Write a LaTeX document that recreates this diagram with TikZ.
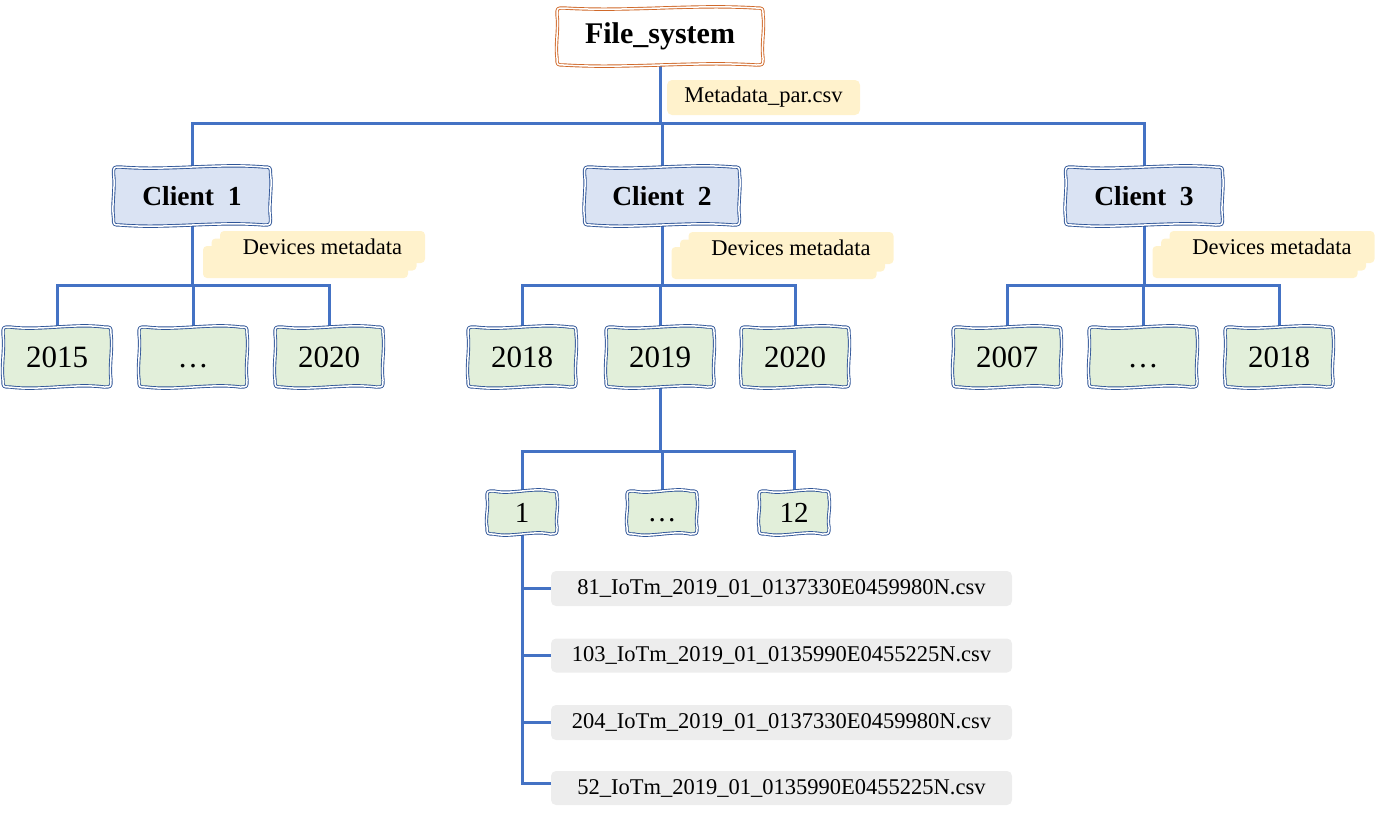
\documentclass[tikz,border=0pt]{standalone}
\usepackage{fontspec}
\setmainfont{Liberation Serif}
\usetikzlibrary{calc}
\definecolor{lineblue}{HTML}{4472C4}
\definecolor{bordblue}{HTML}{2F5597}
\definecolor{bordorange}{HTML}{D0692A}
\definecolor{fillblue}{HTML}{DAE3F3}
\definecolor{fillgreen}{HTML}{E2EFDA}
\definecolor{fillyellow}{HTML}{FFF2CC}
\definecolor{fillgray}{HTML}{EDEDED}
\pgfdeclarelayer{bg}
\pgfsetlayers{bg,main}
\tikzset{
  conn/.style={draw=lineblue, line width=3pt},
  wavebase/.style={line width=0.9pt, double=white, double distance=1.5pt, line join=round},
  rootwave/.style={wavebase, draw=bordorange, fill=white},
  clientwave/.style={wavebase, draw=bordblue, fill=fillblue},
  yearwave/.style={wavebase, draw=bordblue, fill=fillgreen},
  boxtext/.style={inner sep=0pt, text=black},
  roottext/.style={boxtext, font=\fontsize{30}{34}\selectfont\bfseries},
  clienttext/.style={boxtext, font=\fontsize{27.5}{31}\selectfont\bfseries},
  yeartext/.style={boxtext, font=\fontsize{31}{35}\selectfont},
  monthtext/.style={boxtext, font=\fontsize{29}{33}\selectfont},
  smalltext/.style={inner sep=0pt, font=\fontsize{22.5}{26}\selectfont},
  notebox/.style={fill=fillyellow, rounded corners=5pt},
  filebox/.style={fill=fillgray, rounded corners=5pt},
}
% #1 shape style, #2 text style, #3 name, #4 x, #5 y, #6 half width, #7 half height, #8 text
\newcommand\wavebox[8]{%
  \pgfmathsetmacro\wbW{#6}%
  \pgfmathsetmacro\wbH{#7}%
  \pgfmathsetmacro\wbT{#6/3}%
  \begin{scope}[shift={(#4,#5)}]
  \path[#1] (-\wbW,{-\wbH+7}) .. controls (-\wbW,-\wbH) .. ({-\wbW+7},-\wbH)
     .. controls (-\wbT,{-\wbH+4}) and (\wbT,{-\wbH-4}) .. ({\wbW-7},-\wbH)
     .. controls (\wbW,-\wbH) .. (\wbW,{-\wbH+7})
     .. controls ({\wbW+2},{-\wbH/3}) and ({\wbW-2},{\wbH/3}) .. (\wbW,{\wbH-7})
     .. controls (\wbW,\wbH) .. ({\wbW-7},\wbH)
     .. controls (\wbT,{\wbH-4}) and (-\wbT,{\wbH+4}) .. ({-\wbW+7},\wbH)
     .. controls (-\wbW,\wbH) .. (-\wbW,{\wbH-7})
     .. controls ({-\wbW-2},{\wbH/3}) and ({-\wbW+2},{-\wbH/3}) .. cycle;
  \end{scope}
  \node[#2, minimum width={2*#6pt}, minimum height={2*#7pt}] (#3) at (#4,#5) {#8};
}
% stacked note: #1 name, #2 x, #3 y (top-left of front sheet)
\newcommand\devnote[3]{%
  \begin{scope}[shift={(#2,#3)}]
    \fill[fillyellow, rounded corners=4pt] (-17,15) rectangle (188,47);
    \fill[fillyellow, rounded corners=4pt] (-8.5,7.5) rectangle (196.5,39.5);
    \fill[fillyellow, rounded corners=4pt] (0,0) rectangle (205,32);
  \end{scope}
  \node[smalltext] (#1) at ({#2+102.5},{#3+16}) {Devices metadata};
}
\newcommand\mydots{\vphantom{0}…}
\begin{document}
\begin{tikzpicture}[x=1pt, y=-1pt]
\useasboundingbox (0,0) rectangle (1375,817);

% root
\wavebox{rootwave}{roottext}{fs}{660}{36.5}{103}{28.5}{File\_system}
\node[notebox, smalltext, minimum width=193pt, minimum height=35pt] (meta) at (763.5,97.5) {Metadata\_par.csv};

% clients
\wavebox{clientwave}{clienttext}{c1}{192}{196}{78.5}{29}{Client\ \ 1}
\wavebox{clientwave}{clienttext}{c2}{662}{196}{77.5}{29}{Client\ \ 2}
\wavebox{clientwave}{clienttext}{c3}{1144}{196}{78.5}{29}{Client\ \ 3}

\devnote{d1}{220}{231}
\devnote{d2}{688.5}{232}
\devnote{d3}{1169.5}{231}

% years
\wavebox{yearwave}{yeartext}{y11}{57}{357}{54}{30}{2015}
\wavebox{yearwave}{yeartext}{y12}{193}{357}{54}{30}{\mydots}
\wavebox{yearwave}{yeartext}{y13}{329}{357}{54}{30}{2020}
\wavebox{yearwave}{yeartext}{y21}{522}{357}{54}{30}{2018}
\wavebox{yearwave}{yeartext}{y22}{660}{357}{54}{30}{2019}
\wavebox{yearwave}{yeartext}{y23}{795}{357}{54}{30}{2020}
\wavebox{yearwave}{yeartext}{y31}{1007}{357}{54}{30}{2007}
\wavebox{yearwave}{yeartext}{y32}{1143}{357}{54}{30}{\mydots}
\wavebox{yearwave}{yeartext}{y33}{1279}{357}{54}{30}{2018}

% months
\wavebox{yearwave}{monthtext}{m1}{522}{512.5}{35}{21.5}{1}
\wavebox{yearwave}{monthtext}{m2}{662}{512.5}{35}{21.5}{\mydots}
\wavebox{yearwave}{monthtext}{m3}{794}{512.5}{35}{21.5}{12}

% files
\node[filebox, smalltext, minimum width=461pt, minimum height=35pt] (f1) at (781.5,588.5) {81\_IoTm\_2019\_01\_0137330E0459980N.csv};
\node[filebox, smalltext, minimum width=461pt, minimum height=34pt] (f2) at (781.5,655.5) {103\_IoTm\_2019\_01\_0135990E0455225N.csv};
\node[filebox, smalltext, minimum width=461pt, minimum height=35pt] (f3) at (781.5,722.5) {204\_IoTm\_2019\_01\_0137330E0459980N.csv};
\node[filebox, smalltext, minimum width=461pt, minimum height=34pt] (f4) at (781.5,788) {52\_IoTm\_2019\_01\_0135990E0455225N.csv};

% connectors
\coordinate (bus0) at (660,123);
\coordinate (bus1) at (192,285);
\coordinate (bus2) at (660,285);
\coordinate (bus3) at (1144,285);
\coordinate (bus4) at (660,451);
\coordinate (fend) at (522,783);
\begin{pgfonlayer}{bg}
  \draw[conn] (fs.south) -- (fs.south |- bus0);
  \draw[conn, line cap=rect] (c1.north |- bus0) -- (c3.north |- bus0);
  \draw[conn] (c1.north |- bus0) -- (c1.north);
  \draw[conn] (c2.north |- bus0) -- (c2.north);
  \draw[conn] (c3.north |- bus0) -- (c3.north);
  % client 1
  \draw[conn] (c1.south) -- (bus1);
  \draw[conn, line cap=rect] (y11.north |- bus1) -- (y13.north |- bus1);
  \draw[conn] (y11.north |- bus1) -- (y11.north);
  \draw[conn] (y12.north |- bus1) -- (y12.north);
  \draw[conn] (y13.north |- bus1) -- (y13.north);
  % client 2
  \draw[conn] (c2.south) -- (c2.south |- bus2);
  \draw[conn, line cap=rect] (y21.north |- bus2) -- (y23.north |- bus2);
  \draw[conn] (y21.north |- bus2) -- (y21.north);
  \draw[conn] (y22.north |- bus2) -- (y22.north);
  \draw[conn] (y23.north |- bus2) -- (y23.north);
  % client 3
  \draw[conn] (c3.south) -- (bus3);
  \draw[conn, line cap=rect] (y31.north |- bus3) -- (y33.north |- bus3);
  \draw[conn] (y31.north |- bus3) -- (y31.north);
  \draw[conn] (y32.north |- bus3) -- (y32.north);
  \draw[conn] (y33.north |- bus3) -- (y33.north);
  % months
  \draw[conn] (y22.south) -- (bus4);
  \draw[conn, line cap=rect] (m1.north |- bus4) -- (m3.north |- bus4);
  \draw[conn] (m1.north |- bus4) -- (m1.north);
  \draw[conn] (m2.north |- bus4) -- (m2.north);
  \draw[conn] (m3.north |- bus4) -- (m3.north);
  % files
  \draw[conn, line cap=rect] (m1.south) -- (fend);
  \draw[conn] (m1.south |- f1.west) -- (f1.west);
  \draw[conn] (m1.south |- f2.west) -- (f2.west);
  \draw[conn] (m1.south |- f3.west) -- (f3.west);
  \draw[conn] (fend) -- (fend -| f4.west);
\end{pgfonlayer}
\end{tikzpicture}
\end{document}
